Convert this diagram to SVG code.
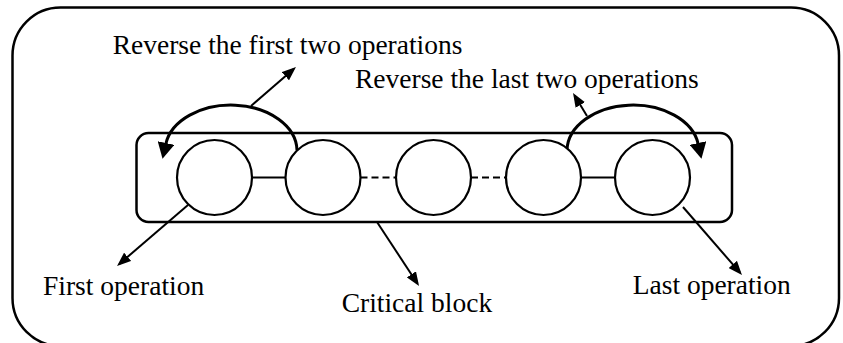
<svg xmlns="http://www.w3.org/2000/svg" width="843" height="343" viewBox="0 0 843 343">
<style>
  .frame{fill:none;stroke:#000;stroke-width:2.5}
  .op{fill:#fff;stroke:#000;stroke-width:2.2}
  .link{fill:none;stroke:#000;stroke-width:2.2}
  .dash{stroke-dasharray:7 4}
  .arc{fill:none;stroke:#000;stroke-width:3}
  .ptr{fill:none;stroke:#000;stroke-width:2}
  .lbl{font-family:"Liberation Serif","Times New Roman",serif;font-size:27.5px;fill:#000}
</style>
<defs>
  <marker id="head" markerUnits="userSpaceOnUse" viewBox="0 0 14 11" markerWidth="14" markerHeight="11" refX="11" refY="5.5" orient="auto">
    <path d="M0,0 L14,5.5 L0,11 z" fill="#000"/>
  </marker>
  <marker id="bighead" markerUnits="userSpaceOnUse" viewBox="0 0 16 17" markerWidth="16" markerHeight="17" refX="1" refY="8.5" orient="auto">
    <path d="M0,0 L16,8.5 L0,17 z" fill="#000"/>
  </marker>
</defs>

<rect id="outer" class="frame" x="12.5" y="7.5" width="826.5" height="338.5" rx="48" ry="48"/>

<g id="critical-block">
  <rect class="frame" x="136.5" y="133" width="595.5" height="89" rx="12" ry="12"/>
</g>

<g id="connectors">
  <line class="link" x1="252" y1="177.5" x2="285.5" y2="177.5"/>
  <line class="link dash" x1="360.5" y1="177.5" x2="396" y2="177.5"/>
  <line class="link dash" x1="471" y1="177.5" x2="506" y2="177.5"/>
  <line class="link" x1="581" y1="177.5" x2="615" y2="177.5"/>
  <path class="arc" d="M297,150 A66,46 0 0 0 165.8,144" marker-end="url(#bighead)"/>
  <path class="arc" d="M567,150 A66,46 0 0 1 698.2,144" marker-end="url(#bighead)"/>
  <line class="ptr" x1="251" y1="106" x2="293.7" y2="69" marker-end="url(#head)"/>
  <line class="ptr" x1="587" y1="116" x2="574.6" y2="95.6" marker-end="url(#head)"/>
  <line class="ptr" x1="188" y1="205" x2="119.3" y2="264" marker-end="url(#head)"/>
  <line class="ptr" x1="377" y1="222" x2="417.4" y2="283.5" marker-end="url(#head)"/>
  <line class="ptr" x1="683" y1="207" x2="740" y2="272.7" marker-end="url(#head)"/>
</g>

<g id="op1"><circle class="op" cx="214.5" cy="177.5" r="37.5"/></g>
<g id="op2"><circle class="op" cx="323" cy="177.5" r="37.5"/></g>
<g id="op3"><circle class="op" cx="433.5" cy="177.5" r="37.5"/></g>
<g id="op4"><circle class="op" cx="543.5" cy="177.5" r="37.5"/></g>
<g id="op5"><circle class="op" cx="652.5" cy="177.5" r="37.5"/></g>

<g id="labels">
  <text class="lbl" x="112.7" y="54">Reverse the first two operations</text>
  <text class="lbl" x="355" y="88">Reverse the last two operations</text>
  <text class="lbl" x="43" y="295">First operation</text>
  <text class="lbl" x="341.7" y="311.7">Critical block</text>
  <text class="lbl" x="632.7" y="294">Last operation</text>
</g>
</svg>
